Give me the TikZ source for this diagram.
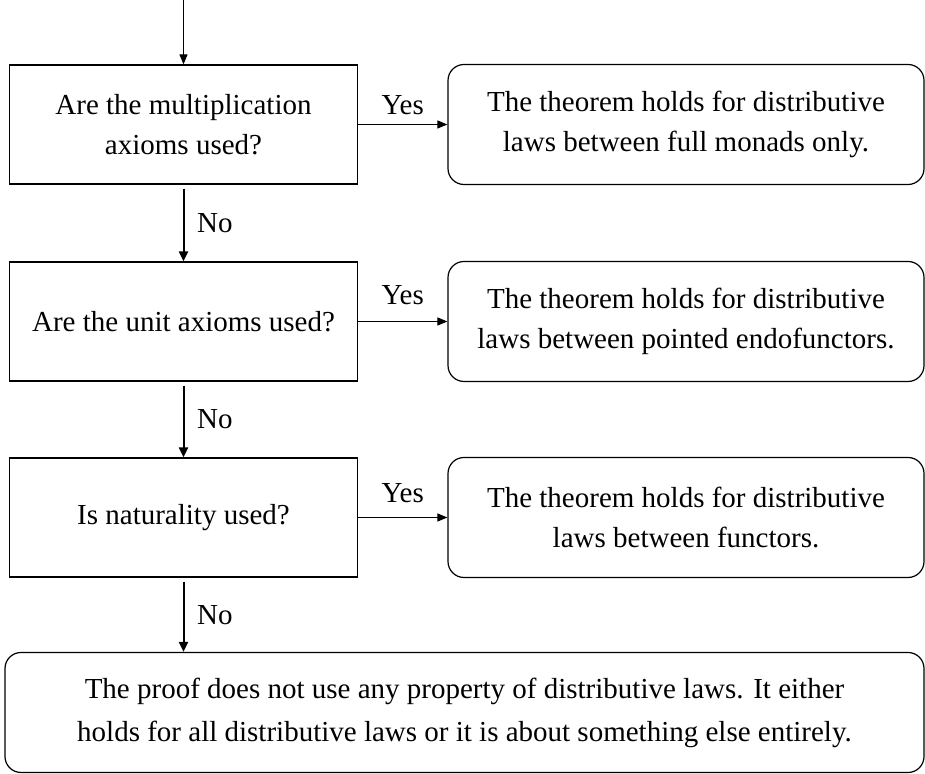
\documentclass[tikz,border=0pt]{standalone}
\usepackage{fontspec}
\setmainfont{Liberation Serif}
\usetikzlibrary{positioning, arrows.meta}

\begin{document}
\begin{tikzpicture}[x=0.5pt, y=0.5pt, font=\fontsize{14.5}{20}\selectfont]

    % Define styles
    \tikzset{
        question/.style = {rectangle, minimum width=174pt, minimum height=59.5pt, inner sep=0pt, align=center, draw=black, line width=0.6pt},
        answer/.style = {rectangle, rounded corners=8pt, minimum width=238pt, minimum height=60pt, inner sep=0pt, align=center, draw=black, line width=0.6pt},
        yesarrow/.style = {line width=0.5pt, -{Triangle[length=5pt, width=4pt]}},
        noarrow/.style = {line width=1pt, shorten <=2pt, -{Triangle[length=5pt, width=4.5pt]}}
    }

    \useasboundingbox (0,0) rectangle (925,774);

    % Nodes
    \node (mult) [question] at (183.5,649.5) {Are the multiplication\\axioms used?};
    \node (unit) [question, below of=mult, node distance=98.5pt] {Are the unit axioms used?};
    \node (nat) [question, below of=unit, node distance=98pt] {Is naturality used?};
    \node (full) [answer, right of=mult, node distance=251.25pt] {The theorem holds for distributive\\laws between full monads only.};
    \node (pointed) [answer, right of=unit, node distance=251.25pt] {The theorem holds for distributive\\laws between pointed endofunctors.};
    \node (func) [answer, right of=nat, node distance=251.25pt] {The theorem holds for distributive\\laws between functors.};
    \node (none) [answer, minimum width=459.5pt, below of=nat, node distance=97.5pt, xshift=140.5pt, font=\fontsize{14.5}{21.5}\selectfont] {The proof does not use any property of distributive laws. It either\\holds for all distributive laws or it is about something else entirely.};
    \coordinate [above of=mult, node distance=62pt] (start);

    % Arrows
    \draw [yesarrow] (start) -- (mult);
    \draw [yesarrow] (mult) -- node[above=1.5pt] {Yes} (full);
    \draw [yesarrow] (unit) -- node[above=5pt] {Yes} (pointed);
    \draw [yesarrow] (nat) -- node[above=4pt] {Yes} (func);
    \draw [noarrow] (mult) -- node[right=3pt] {No} (unit);
    \draw [noarrow] (unit) -- node[right=3pt] {No} (nat);
    \draw [noarrow] (nat.south) -- node[right=3pt] {No} (nat.south |- none.north);
\end{tikzpicture}
\end{document}
